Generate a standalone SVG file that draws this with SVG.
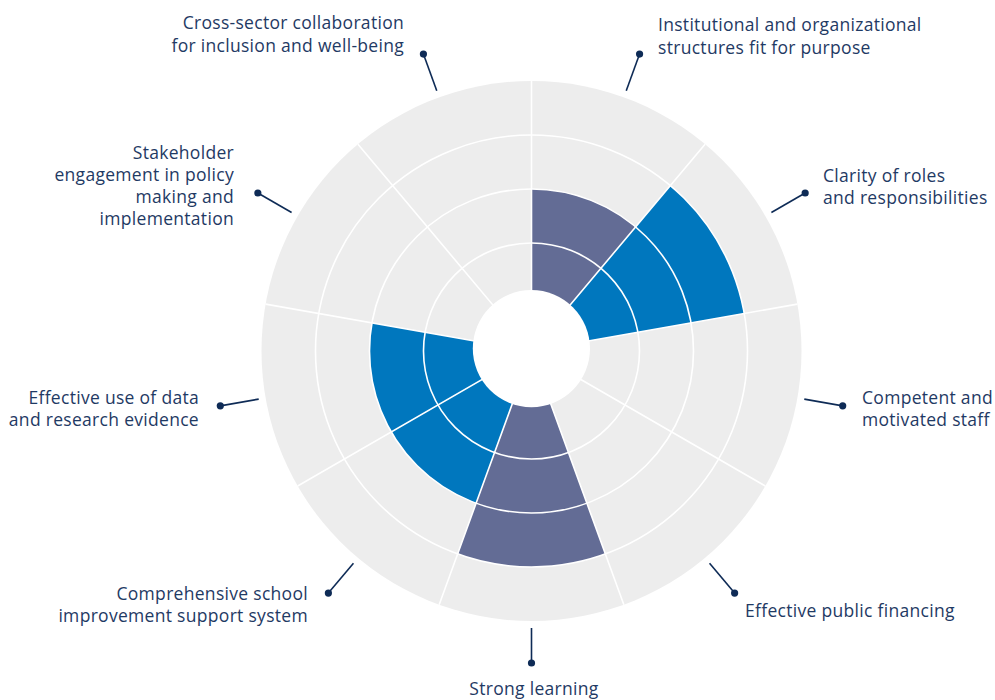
<svg xmlns="http://www.w3.org/2000/svg" width="995" height="700" viewBox="0 0 995 700">
<style>
.lbl{font-family:"Open Sans","Liberation Sans",Arial,sans-serif;font-size:17.5px;letter-spacing:0.3px;fill:#1f3a64}
.e{text-anchor:end}
.m{text-anchor:middle}
.grid{stroke:#ffffff;stroke-width:1.6;fill:none}
.lead{stroke:#0e2b56;stroke-width:1.6;fill:none}
.dot{fill:#0e2b56}
.purple{fill:#636c95}
.blue{fill:#0077be}
</style>
<rect width="995" height="700" fill="#ffffff"/>
<g id="chart" transform="translate(531.5,351)">
  <circle id="background" r="270" fill="#ededed"/>
  <g id="sector-institutional"><path class="purple" d="M0 0 L0 -162 A162 162 0 0 1 104.13 -124.10 Z"/></g>
  <g id="sector-clarity"><path class="blue" d="M0 0 L138.84 -165.47 A216 216 0 0 1 212.72 -37.51 Z"/></g>
  <g id="sector-strong-learning"><path class="purple" d="M0 0 L73.88 202.97 A216 216 0 0 1 -73.88 202.97 Z"/></g>
  <g id="sector-comprehensive"><path class="blue" d="M0 0 L-55.41 152.23 A162 162 0 0 1 -140.30 81 Z"/></g>
  <g id="sector-data"><path class="blue" d="M0 0 L-140.30 81 A162 162 0 0 1 -159.54 -28.13 Z"/></g>
  <g id="grid">
    <circle class="grid" r="108"/>
    <circle class="grid" r="162"/>
    <circle class="grid" r="216"/>
    <path class="grid" d="M0 0 L0 -270 M0 0 L173.55 -206.83 M0 0 L265.90 -46.89 M0 0 L233.83 135 M0 0 L92.35 253.72 M0 0 L-92.35 253.72 M0 0 L-233.83 135 M0 0 L-265.90 -46.89 M0 0 L-173.55 -206.83"/>
  </g>
  <circle id="hole" cx="-0.1" cy="-2.4" r="58.6" fill="#ffffff"/>
  <g id="connectors">
    <line class="lead" x1="94.74" y1="-260.29" x2="108.08" y2="-296.94"/>
    <circle class="dot" cx="108.08" cy="-296.94" r="3.6"/>
    <line class="lead" x1="239.89" y1="-138.5" x2="273.66" y2="-158"/>
    <circle class="dot" cx="273.66" cy="-158" r="3.6"/>
    <line class="lead" x1="272.79" y1="48.10" x2="311.20" y2="54.87"/>
    <circle class="dot" cx="311.20" cy="54.87" r="3.6"/>
    <line class="lead" x1="178.05" y1="212.19" x2="203.12" y2="242.07"/>
    <circle class="dot" cx="203.12" cy="242.07" r="3.6"/>
    <line class="lead" x1="0" y1="277" x2="0" y2="312"/>
    <circle class="dot" cx="0" cy="312" r="3.6"/>
    <line class="lead" x1="-178.05" y1="212.19" x2="-203.12" y2="242.07"/>
    <circle class="dot" cx="-203.12" cy="242.07" r="3.6"/>
    <line class="lead" x1="-272.79" y1="48.10" x2="-311.20" y2="54.87"/>
    <circle class="dot" cx="-311.20" cy="54.87" r="3.6"/>
    <line class="lead" x1="-239.89" y1="-138.5" x2="-273.66" y2="-158"/>
    <circle class="dot" cx="-273.66" cy="-158" r="3.6"/>
    <line class="lead" x1="-94.74" y1="-260.29" x2="-108.08" y2="-296.94"/>
    <circle class="dot" cx="-108.08" cy="-296.94" r="3.6"/>
  </g>
</g>
<g id="label-cross-sector"><text class="lbl e" x="404" y="29">Cross-sector collaboration</text><text class="lbl e" x="404" y="52">for inclusion and well-being</text></g>
<g id="label-institutional"><text class="lbl" x="658" y="31">Institutional and organizational</text><text class="lbl" x="658" y="54">structures fit for purpose</text></g>
<g id="label-stakeholder"><text class="lbl e" x="234" y="159">Stakeholder</text><text class="lbl e" x="234" y="181">engagement in policy</text><text class="lbl e" x="234" y="203">making and</text><text class="lbl e" x="234" y="225">implementation</text></g>
<g id="label-clarity"><text class="lbl" x="823" y="182">Clarity of roles</text><text class="lbl" x="823" y="204">and responsibilities</text></g>
<g id="label-data"><text class="lbl e" x="199" y="404">Effective use of data</text><text class="lbl e" x="199" y="426">and research evidence</text></g>
<g id="label-competent"><text class="lbl" x="862" y="404">Competent and</text><text class="lbl" x="862" y="426">motivated staff</text></g>
<g id="label-comprehensive"><text class="lbl e" x="308" y="600">Comprehensive school</text><text class="lbl e" x="308" y="622">improvement support system</text></g>
<g id="label-financing"><text class="lbl" x="745" y="617">Effective public financing</text></g>
<g id="label-strong-learning"><text class="lbl m" x="534" y="695">Strong learning</text></g>
</svg>
